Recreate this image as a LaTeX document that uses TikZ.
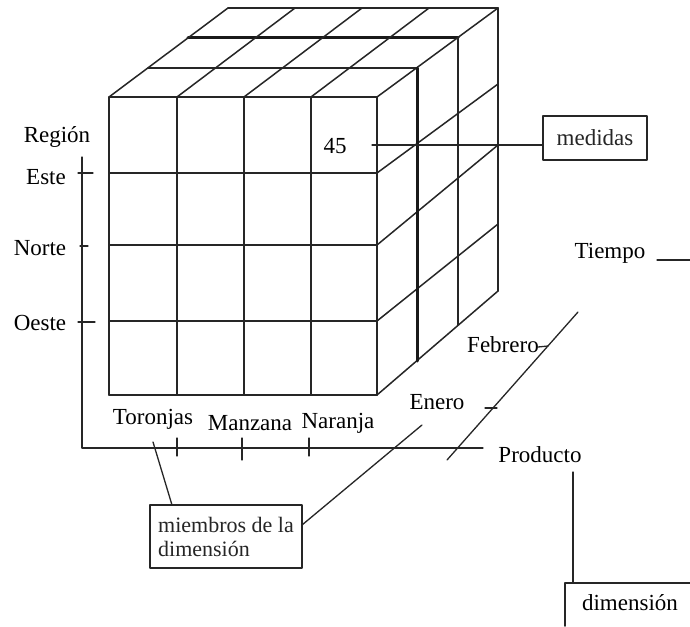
\documentclass[tikz,border=0pt]{standalone}
\usepackage{fontspec}
\setmainfont{Liberation Serif}
\begin{document}
\begin{tikzpicture}[x=1pt,y=-1pt,line cap=round,line join=round,
  grid/.style={line width=1.5pt,black!85},
  heavy/.style={line width=3pt,black!90},
  thin/.style={line width=1.3pt,black!85},
  lbl/.style={font=\fontsize{23}{25}\selectfont,inner sep=0pt},
  box/.style={draw,line width=1.5pt,black!85,font=\fontsize{23}{25}\selectfont}]
\useasboundingbox (0,0) rectangle (690,626);
\fill[white] (0,0) rectangle (690,626);
% front face
\foreach \x in {109,177,244,311,377} \draw[grid] (\x,97) -- (\x,395);
\foreach \y in {97,173,245,321,395} \draw[grid] (109,\y) -- (377,\y);
% top face
\draw[grid] (148,68) -- (417,68);
\draw[heavy] (188,38) -- (458,38);
\draw[grid] (228,8) -- (498,8);
\foreach \a/\b in {109/228,177/295,244/362,311/429,377/498} \draw[grid] (\a,97) -- (\b,8);
% right face
\foreach \yf/\yb in {173/84,245/145,321/224,395/291} \draw[grid] (377,\yf) -- (498,\yb);
\draw[heavy] (417,68) -- (417,361);
\draw[grid] (458,38) -- (458,325);
\draw[grid] (498,8) -- (498,291);
% axes
\coordinate (ra) at (82,157);
\coordinate (origin) at (82,448);
\coordinate (pa) at (483,448);
\draw[thin] (ra) -- (origin) -- (pa);
\draw[thin] (78,173) -- (93,173);
\draw[thin] (80,246) -- (88,246);
\draw[thin] (78,322) -- (95,322);
\draw[thin] (177,438) -- (177,456);
\draw[thin] (242,438) -- (242,460);
\draw[thin] (309,438) -- (309,456);
\coordinate (ta) at (447,460);
\coordinate (tb) at (578,312);
\draw[thin] (ta) -- (tb);
\draw[thin] (538,347) -- (548,346);
\draw[thin] (485,408) -- (497,408);
% labels
\node[lbl] (region) at (57,137) {Región};
\node[lbl] (este) at (46,177) {Este};
\node[lbl] (norte) at (40,248) {Norte};
\node[lbl] (oeste) at (40,323) {Oeste};
\node[lbl] (toronjas) at (153,419) {Toronjas};
\node[lbl] (manzana) at (250,423) {Manzana};
\node[lbl] (naranja) at (338,423) {Naranja};
\node[lbl] (enero) at (437,402) {Enero};
\node[lbl] (febrero) at (503,345) {Febrero};
\node[lbl] (producto) at (540,455) {Producto};
\node[lbl] (tiempo) at (610,253) {Tiempo};
\node[lbl] (v45) at (335,146) {45};
% measure box
\node[box,minimum width=104pt,minimum height=44pt,inner sep=0pt] (medidas) at (595,138) {medidas};
\coordinate (m45) at (372,145);
\draw[thin] (m45) -- (m45 -| medidas.west);
% tiempo line
\coordinate (tl1) at (657,260);
\coordinate (tl2) at (690,260);
\draw[thin] (tl1) -- (tl2);
% members box
\node[box,font=\fontsize{22}{24}\selectfont,minimum width=152pt,minimum height=63pt,inner sep=2pt,align=left] (miembros) at (226,536.5) {miembros de la\\dimensión};
\coordinate (tor) at (153,442);
\coordinate (mtop) at (172,505);
\draw[thin] (tor) -- (mtop);
\coordinate (mright) at (302,525);
\coordinate (ene) at (422,425);
\draw[thin] (mright) -- (ene);
% dimension box
\coordinate (prodend) at (573,472);
\coordinate (dimtop) at (573,583);
\draw[thin] (prodend) -- (dimtop);
\draw[grid] (565,626) -- (565,583) -- (690,583);
\node[lbl] (dimension) at (630,603) {dimensión};
\end{tikzpicture}
\end{document}
